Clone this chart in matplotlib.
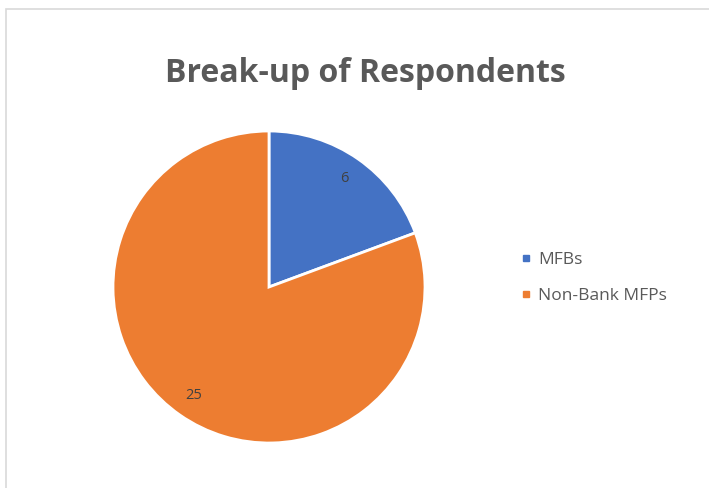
import matplotlib.pyplot as plt
from matplotlib.lines import Line2D
from matplotlib.patches import Rectangle

labels = ['MFBs', 'Non-Bank MFPs']
values = [6, 25]
colors = ['#4472C4', '#ED7D31']

W, H = 709, 488
fig = plt.figure(figsize=(W / 100, H / 100), dpi=100)

# light chart border (only top and left visible in the reference)
fig.add_artist(Rectangle((6 / W, -0.1), 1.2, (H - 9) / H + 0.1, transform=fig.transFigure,
                         fill=False, edgecolor='#d9d9d9', linewidth=1.2))

fig.text(365 / W, 1 - 74 / H, 'Break-up of Respondents', ha='center', va='center',
         fontsize=23, fontweight='bold', color='#595959', family='Open Sans')

# pie: center (269, 287), radius 156 px
ax = fig.add_axes([113 / W, (H - 443) / H, 312 / W, 312 / H])
wedges, texts, autotexts = ax.pie(
    values, colors=colors, startangle=90, counterclock=False,
    autopct=lambda p: f'{round(p * sum(values) / 100)}', pctdistance=0.85,
    wedgeprops=dict(edgecolor='white', linewidth=2),
    textprops=dict(fontsize=10.5, color='#404040', family='Open Sans'))
ax.set_xlim(-1, 1)
ax.set_ylim(-1, 1)
ax.set_aspect('equal')

handles = [Line2D([], [], marker='s', linestyle='', markersize=5, color=c) for c in colors]
fig.legend(handles, labels, loc='center left', bbox_to_anchor=(506 / W, 1 - 278 / H),
           frameon=False, handlelength=0.5, handletextpad=0.45, labelspacing=1.15,
           prop=dict(family='Open Sans', size=12.5), labelcolor='#595959')

fig.savefig('out.png', dpi=100)
